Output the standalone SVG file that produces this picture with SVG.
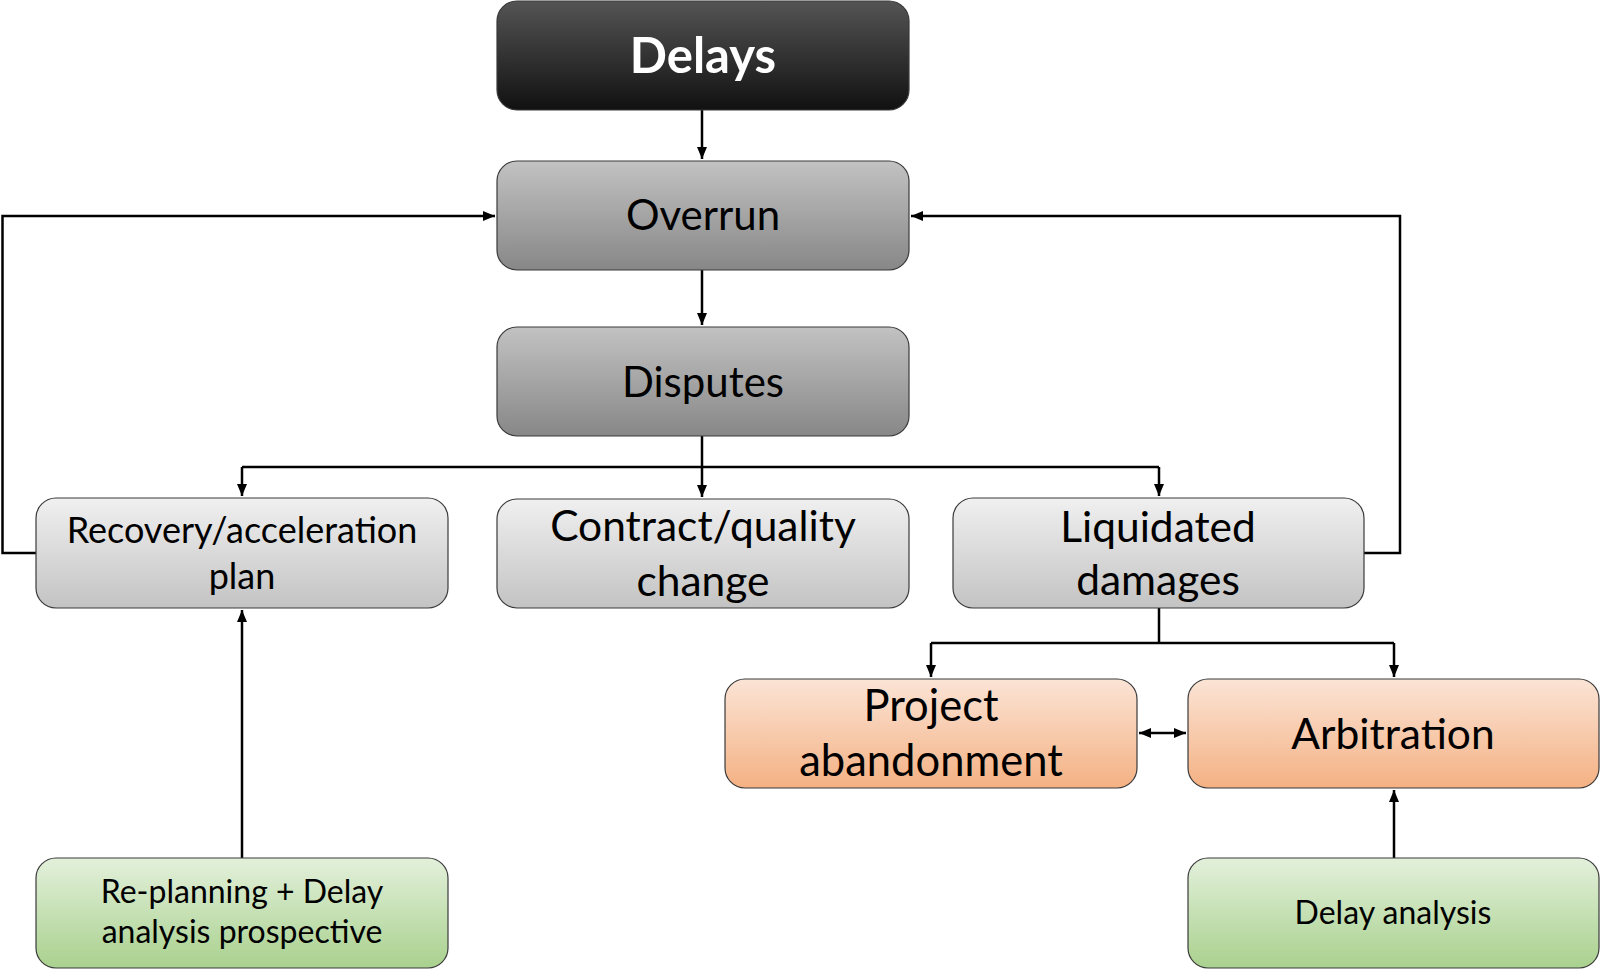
<svg xmlns="http://www.w3.org/2000/svg" width="1600" height="976" viewBox="0 0 1600 976">
<defs>
<linearGradient id="gDark" x1="0" y1="0" x2="0" y2="1"><stop offset="0" stop-color="#545454"/><stop offset="1" stop-color="#111111"/></linearGradient>
<linearGradient id="gMid" x1="0" y1="0" x2="0" y2="1"><stop offset="0" stop-color="#c2c2c2"/><stop offset="1" stop-color="#878787"/></linearGradient>
<linearGradient id="gLight" x1="0" y1="0" x2="0" y2="1"><stop offset="0" stop-color="#f0f0f0"/><stop offset="1" stop-color="#c3c3c3"/></linearGradient>
<linearGradient id="gOrange" x1="0" y1="0" x2="0" y2="1"><stop offset="0" stop-color="#fbe4d6"/><stop offset="1" stop-color="#f4b183"/></linearGradient>
<linearGradient id="gGreen" x1="0" y1="0" x2="0" y2="1"><stop offset="0" stop-color="#e3f0db"/><stop offset="1" stop-color="#a9d18e"/></linearGradient>
<marker id="ah" markerUnits="userSpaceOnUse" markerWidth="13" markerHeight="13" viewBox="0 0 13 13" refX="12" refY="6.5" orient="auto-start-reverse"><path d="M0,1.5 L12,6.5 L0,11.5 Z" fill="#000"/></marker>
</defs>
<style>
.box{stroke:#3a3a3a;stroke-width:1.2}
.t{font-family:Lato,"Open Sans","Liberation Sans",sans-serif;text-anchor:middle;fill:#000}
.c{fill:none;stroke:#000;stroke-width:2.5}
</style>
<rect width="1600" height="976" fill="#fff"/>
<g id="connectors">
<path class="c" d="M702,110 V159" marker-end="url(#ah)"/>
<path class="c" d="M702,270 V325" marker-end="url(#ah)"/>
<path class="c" d="M702,436 V497" marker-end="url(#ah)"/>
<path class="c" d="M242,467 H1159"/>
<path class="c" d="M242,467 V496" marker-end="url(#ah)"/>
<path class="c" d="M1159,467 V496" marker-end="url(#ah)"/>
<path class="c" d="M36,553 H2.5 V216 H495" marker-end="url(#ah)"/>
<path class="c" d="M1364,553 H1400 V216 H911" marker-end="url(#ah)"/>
<path class="c" d="M1159,608 V643"/>
<path class="c" d="M931,643 H1394"/>
<path class="c" d="M931,643 V677" marker-end="url(#ah)"/>
<path class="c" d="M1394,643 V677" marker-end="url(#ah)"/>
<path class="c" d="M1139,733 H1186" marker-start="url(#ah)" marker-end="url(#ah)"/>
<path class="c" d="M242,858 V610" marker-end="url(#ah)"/>
<path class="c" d="M1394,858 V790" marker-end="url(#ah)"/>
</g>
<g id="delays"><rect class="box" x="497" y="1" width="412" height="109" rx="20" fill="url(#gDark)"/><text class="t" x="703" y="73" font-size="49" font-weight="bold" style="fill:#fff">Delays</text></g>
<g id="overrun"><rect class="box" x="497" y="161" width="412" height="109" rx="20" fill="url(#gMid)"/><text class="t" x="703" y="230" font-size="42">Overrun</text></g>
<g id="disputes"><rect class="box" x="497" y="327" width="412" height="109" rx="20" fill="url(#gMid)"/><text class="t" x="703" y="397" font-size="42">Disputes</text></g>
<g id="recovery"><rect class="box" x="36" y="498" width="412" height="110" rx="20" fill="url(#gLight)"/><text class="t" x="242" y="543" font-size="36">Recovery/acceleration</text><text class="t" x="242" y="589" font-size="36">plan</text></g>
<g id="contract"><rect class="box" x="497" y="499" width="412" height="109" rx="20" fill="url(#gLight)"/><text class="t" x="703" y="541" font-size="42.5">Contract/quality</text><text class="t" x="703" y="596" font-size="42.5">change</text></g>
<g id="liquidated"><rect class="box" x="953" y="498" width="411" height="110" rx="20" fill="url(#gLight)"/><text class="t" x="1158" y="542" font-size="42.5">Liquidated</text><text class="t" x="1158" y="595" font-size="42.5">damages</text></g>
<g id="abandonment"><rect class="box" x="725" y="679" width="412" height="109" rx="20" fill="url(#gOrange)"/><text class="t" x="931" y="721" font-size="43.5">Project</text><text class="t" x="931" y="776" font-size="43.5">abandonment</text></g>
<g id="arbitration"><rect class="box" x="1188" y="679" width="411" height="109" rx="20" fill="url(#gOrange)"/><text class="t" x="1393" y="749" font-size="42.5">Arbitration</text></g>
<g id="replanning"><rect class="box" x="36" y="858" width="412" height="110" rx="20" fill="url(#gGreen)"/><text class="t" x="242" y="903" font-size="32">Re-planning + Delay</text><text class="t" x="242" y="943" font-size="32">analysis prospective</text></g>
<g id="delayanalysis"><rect class="box" x="1188" y="858" width="411" height="110" rx="20" fill="url(#gGreen)"/><text class="t" x="1393" y="924" font-size="32">Delay analysis</text></g>
</svg>
